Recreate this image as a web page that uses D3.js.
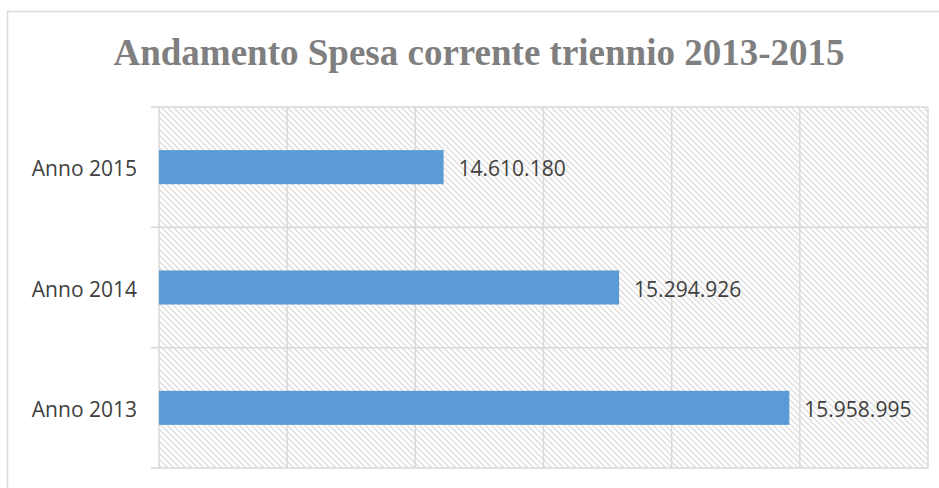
<!DOCTYPE html>
<html>
<head>
<meta charset="utf-8">
<script src="https://cdn.jsdelivr.net/npm/d3@7"></script>
<style>
  html, body { margin: 0; padding: 0; background: #fff; }
  svg { display: block; }
</style>
</head>
<body>
<svg id="chart" width="939" height="488"></svg>
<script>
const title = "Andamento Spesa corrente triennio 2013-2015";
const categories = ["Anno 2013", "Anno 2014", "Anno 2015"];
const values = [15958995, 15294926, 14610180];
const valueLabels = ["15.958.995", "15.294.926", "14.610.180"];
const xDomain = [13500000, 16500000];
const xTicks = [13500000, 14000000, 14500000, 15000000, 15500000, 16000000, 16500000];

(function () {
const svg = d3.select("#chart");
const pLeft = 159, pRight = 928, pTop = 107, pBottom = 468;
const gridColor = "#d9d9d9";

// outer chart border
svg.append("rect")
  .attr("x", 7.5).attr("y", 11.5).attr("width", 940).attr("height", 490)
  .attr("fill", "#fff").attr("stroke", gridColor).attr("stroke-width", 1.5);

// hatch pattern
const defs = svg.append("defs");
const pat = defs.append("pattern")
  .attr("id", "hatch").attr("patternUnits", "userSpaceOnUse")
  .attr("width", 6).attr("height", 6);
pat.append("path")
  .attr("d", "M0,0L6,6M-1,5L1,7M5,-1L7,1")
  .attr("stroke", "#dedede").attr("stroke-width", 1.4).attr("fill", "none");

const x = d3.scaleLinear().domain(xDomain).range([pLeft, pRight]);
const y = d3.scaleBand().domain(categories.slice().reverse()).range([pTop, pBottom]).padding(0);
const barFrac = 0.283;

svg.append("rect")
  .attr("x", pLeft).attr("y", pTop).attr("width", pRight - pLeft).attr("height", pBottom - pTop)
  .attr("fill", "url(#hatch)");

// vertical gridlines
svg.append("g").selectAll("line").data(xTicks).join("line")
  .attr("x1", d => x(d)).attr("x2", d => x(d))
  .attr("y1", pTop).attr("y2", pBottom)
  .attr("stroke", gridColor).attr("stroke-width", 1.5);

// horizontal category boundaries (with outward ticks)
const bounds = categories.map(c => y(c)).concat([pBottom]);
svg.append("g").selectAll("line").data(bounds).join("line")
  .attr("x1", pLeft - 8).attr("x2", pRight)
  .attr("y1", d => d).attr("y2", d => d)
  .attr("stroke", gridColor).attr("stroke-width", 1.5);

// bars
const bw = y.bandwidth();
svg.append("g").selectAll("rect").data(categories).join("rect")
  .attr("x", x(xDomain[0]))
  .attr("y", c => y(c) + bw * (1 - barFrac) / 2)
  .attr("width", (c, i) => x(values[i]) - x(xDomain[0]))
  .attr("height", bw * barFrac)
  .attr("fill", "#5b9bd5");

// value labels
svg.append("g").selectAll("text").data(categories).join("text")
  .attr("x", (c, i) => x(values[i]) + 15)
  .attr("y", c => y(c) + bw / 2 + 1)
  .attr("dominant-baseline", "central")
  .attr("font-family", "'Open Sans', sans-serif")
  .attr("font-size", 21)
  .attr("fill", "#404040")
  .text((c, i) => valueLabels[i]);

// category labels
svg.append("g").selectAll("text").data(categories).join("text")
  .attr("x", pLeft - 22)
  .attr("y", c => y(c) + bw / 2 + 1)
  .attr("text-anchor", "end")
  .attr("dominant-baseline", "central")
  .attr("font-family", "'Open Sans', sans-serif")
  .attr("font-size", 21)
  .attr("fill", "#404040")
  .text(c => c);

// title
svg.append("text")
  .attr("x", 479).attr("y", 65)
  .attr("text-anchor", "middle")
  .attr("font-family", "'Liberation Serif', 'Times New Roman', serif")
  .attr("font-weight", "bold")
  .attr("font-size", 37)
  .attr("fill", "#7f7f7f")
  .text(title);
})();
</script>
</body>
</html>
